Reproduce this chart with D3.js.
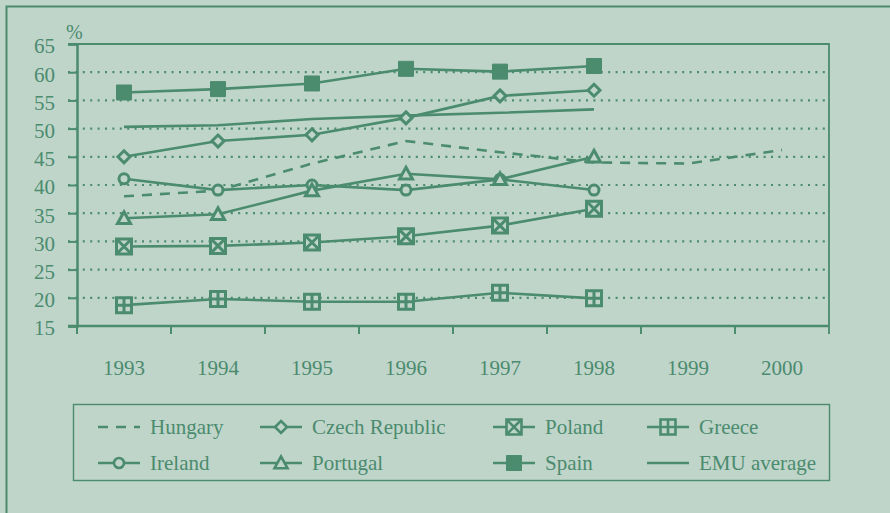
<!DOCTYPE html>
<html>
<head>
<meta charset="utf-8">
<script src="https://cdn.jsdelivr.net/npm/d3@7"></script>
<style>
  html, body { margin: 0; padding: 0; background: #bfd5ca; }
  svg { display: block; }
  svg text { font-family: "Liberation Serif", Tinos, "Times New Roman", "DejaVu Serif", serif; fill: #4b8b6e; }
</style>
</head>
<body>
<svg width="890" height="513"></svg>
<script>
const years = ["1993", "1994", "1995", "1996", "1997", "1998", "1999", "2000"];
const yTicks = [15, 20, 25, 30, 35, 40, 45, 50, 55, 60, 65];

const hungary = [38.0, 39.0, 43.8, 47.8, 45.8, 44.0, 43.8, 46.2];
const czech = [45.0, 47.8, 48.9, 51.9, 55.8, 56.8];
const poland = [29.1, 29.2, 29.8, 30.9, 32.8, 35.8];
const greece = [18.7, 19.8, 19.3, 19.3, 20.9, 19.9];
const ireland = [41.1, 39.1, 40.0, 39.1, 41.0, 39.1];
const portugal = [34.1, 34.8, 39.0, 42.0, 41.0, 45.0];
const spain = [56.4, 57.0, 58.0, 60.6, 60.1, 61.1];
const emu = [50.3, 50.6, 51.7, 52.3, 52.8, 53.4];

const green = "#4b8b6e";
const bg = "#bfd5ca";
const serif = "'Liberation Serif', Tinos, 'Times New Roman', 'DejaVu Serif', serif";
const svg = d3.select("svg");

// outer frame
svg.append("path")
    .attr("d", "M6.5,513V6.5H890")
    .attr("fill", "none")
    .attr("stroke", green)
    .attr("stroke-width", 2);

const x = d3.scaleBand().domain(years).range([77, 829]);
const y = d3.scaleLinear().domain([15, 65]).range([326, 44]);
const cx = d => x(d) + x.bandwidth() / 2;

// dotted grid
svg.append("g")
    .selectAll("line")
    .data(yTicks.filter(v => v > 15 && v < 65))
    .enter().append("line")
    .attr("x1", 68).attr("x2", 829)
    .attr("y1", d => y(d)).attr("y2", d => y(d))
    .attr("stroke", green)
    .attr("stroke-width", 2.2)
    .attr("stroke-dasharray", "2,5.4");

// top and right frame of the plot
svg.append("path")
    .attr("d", `M68,${y(65)}H829V${y(15) + 8}`)
    .attr("fill", "none")
    .attr("stroke", green)
    .attr("stroke-width", 1.8);

// y axis
const yAxis = svg.append("g")
    .attr("transform", "translate(77,0)")
    .call(d3.axisLeft(y).tickValues(yTicks).tickSize(9).tickPadding(13).tickFormat(d3.format("d")));
yAxis.attr("font-family", serif);
yAxis.select(".domain").attr("stroke", green).attr("stroke-width", 2.5);
yAxis.selectAll(".tick line").attr("stroke", green).attr("stroke-width", 2);
yAxis.selectAll(".tick text")
    .attr("font-size", 21).attr("fill", green)
    .attr("dy", "0.42em");

svg.append("text")
    .attr("x", 66).attr("y", 39)
    .attr("font-size", 20)
    .text("%");

// x axis
const xAxis = svg.append("g")
    .attr("transform", `translate(0,${y(15)})`)
    .call(d3.axisBottom(x).tickSize(0).tickPadding(34));
xAxis.attr("font-family", serif);
xAxis.select(".domain").remove();
xAxis.selectAll(".tick text")
    .attr("font-size", 21).attr("fill", green);
svg.append("line")
    .attr("x1", 68).attr("x2", 829)
    .attr("y1", y(15)).attr("y2", y(15))
    .attr("stroke", green).attr("stroke-width", 2.5);
svg.append("g")
    .selectAll("line")
    .data(years)
    .enter().append("line")
    .attr("x1", d => x(d)).attr("x2", d => x(d))
    .attr("y1", y(15)).attr("y2", y(15) + 8)
    .attr("stroke", green).attr("stroke-width", 2);

// marker shapes
function markerPath(type, s) {
    const p = d3.path();
    const h = s / 2;
    if (type === "diamond") {
        p.moveTo(0, -h); p.lineTo(h, 0); p.lineTo(0, h); p.lineTo(-h, 0); p.closePath();
    } else if (type === "triangle") {
        p.moveTo(0, -h); p.lineTo(h, h * 0.8); p.lineTo(-h, h * 0.8); p.closePath();
    } else if (type === "circle") {
        p.moveTo(h, 0); p.arc(0, 0, h, 0, 2 * Math.PI);
    } else if (type === "square" || type === "filled") {
        p.rect(-h, -h, s, s);
    } else if (type === "xsquare") {
        p.rect(-h, -h, s, s);
        p.moveTo(-h, -h); p.lineTo(h, h);
        p.moveTo(h, -h); p.lineTo(-h, h);
    } else if (type === "psquare") {
        p.rect(-h, -h, s, s);
        p.moveTo(0, -h); p.lineTo(0, h);
        p.moveTo(-h, 0); p.lineTo(h, 0);
    }
    return p.toString();
}

const series = [
    {name: "Hungary", values: hungary, marker: null, dash: "10,8", size: 0},
    {name: "Czech Republic", values: czech, marker: "diamond", size: 12},
    {name: "Poland", values: poland, marker: "xsquare", size: 15},
    {name: "Greece", values: greece, marker: "psquare", size: 15},
    {name: "Ireland", values: ireland, marker: "circle", size: 10},
    {name: "Portugal", values: portugal, marker: "triangle", size: 13},
    {name: "Spain", values: spain, marker: "filled", size: 15},
    {name: "EMU average", values: emu, marker: null, size: 0}
];

const line = d3.line()
    .x((d, i) => cx(years[i]))
    .y(d => y(d));

const plot = svg.append("g");
series.forEach(s => {
    plot.append("path")
        .datum(s.values)
        .attr("d", line)
        .attr("fill", "none")
        .attr("stroke", green)
        .attr("stroke-width", 2.6)
        .attr("stroke-dasharray", s.dash || null);
});
series.filter(s => s.marker).forEach(s => {
    plot.append("g")
        .selectAll("path")
        .data(s.values)
        .enter().append("path")
        .attr("transform", (d, i) => `translate(${cx(years[i])},${y(d)})`)
        .attr("d", markerPath(s.marker, s.size))
        .attr("fill", s.marker === "filled" ? green : bg)
        .attr("stroke", green)
        .attr("stroke-width", s.marker === "filled" ? 1 : 3);
});

// legend
svg.append("rect")
    .attr("x", 73.5).attr("y", 404.5)
    .attr("width", 756).attr("height", 76)
    .attr("fill", "none")
    .attr("stroke", green)
    .attr("stroke-width", 1.4);

const legendCols = [98, 260, 493, 647];
const legendRows = [427, 463];
const legend = svg.append("g")
    .selectAll("g")
    .data(series)
    .enter().append("g")
    .attr("transform", (d, i) => `translate(${legendCols[i % 4]},${legendRows[Math.floor(i / 4)]})`);

legend.append("line")
    .attr("x1", 0).attr("x2", 42)
    .attr("stroke", green)
    .attr("stroke-width", 2.6)
    .attr("stroke-dasharray", d => d.dash || null);
legend.filter(d => d.marker).append("path")
    .attr("transform", "translate(21,0)")
    .attr("d", d => markerPath(d.marker, d.size))
    .attr("fill", d => d.marker === "filled" ? green : bg)
    .attr("stroke", green)
    .attr("stroke-width", d => d.marker === "filled" ? 1 : 2.6);
legend.append("text")
    .attr("x", 52).attr("dy", "0.33em")
    .attr("font-size", 21)
    .attr("font-family", serif)
    .text(d => d.name);
</script>
</body>
</html>
